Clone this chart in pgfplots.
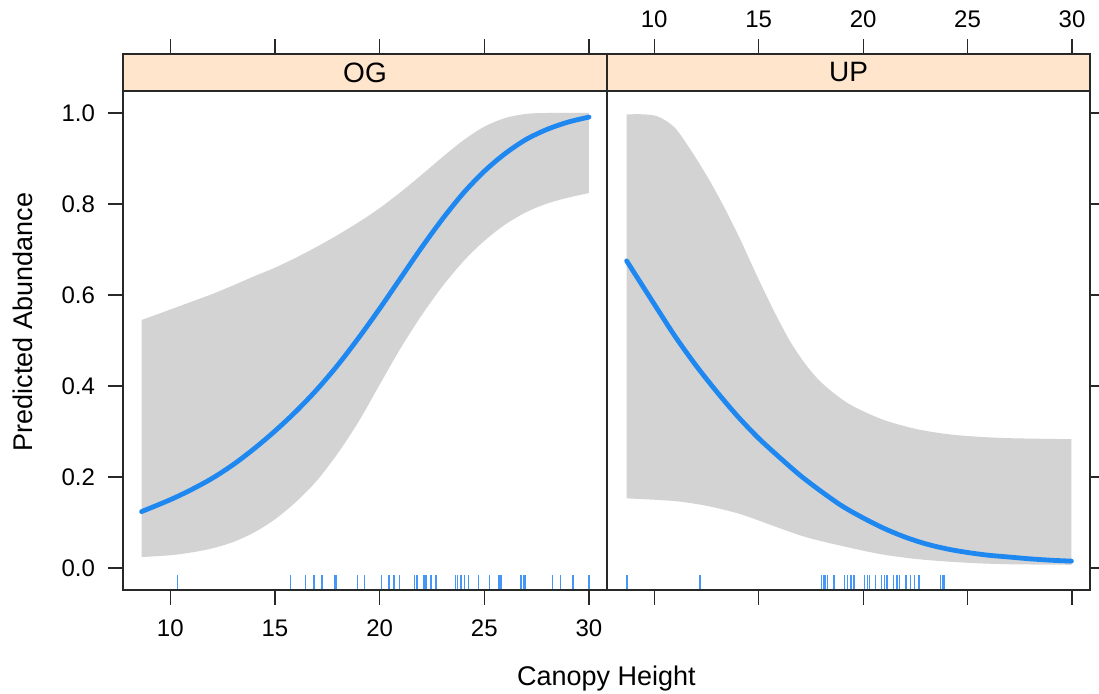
\documentclass[border=0pt]{standalone}
\usepackage{fontspec}
\setmainfont{Liberation Sans}
\usepackage{pgfplots}
\pgfplotsset{compat=1.18}
\usepgfplotslibrary{fillbetween}

\definecolor{fitblue}{RGB}{30,136,240}
\definecolor{rugblue}{RGB}{70,150,245}
\definecolor{bandgray}{RGB}{211,211,211}
\definecolor{stripbg}{RGB}{255,229,204}
\definecolor{framegray}{RGB}{40,40,40}

% fitted curves with confidence bands, one table per series
\pgfplotstableread{
x y
8.63 0.124
10 0.150
11 0.172
12 0.197
13 0.227
14 0.262
15 0.301
16 0.344
17 0.392
18 0.446
19 0.506
20 0.570
21 0.637
22 0.704
23 0.767
24 0.824
25 0.872
26 0.911
27 0.942
28 0.964
29 0.980
30 0.991
}\ogfit
\pgfplotstableread{
x y
8.63 0.545
10 0.568
11 0.585
12 0.602
13 0.621
14 0.641
15 0.660
16 0.682
17 0.706
18 0.732
19 0.760
20 0.791
21 0.826
22 0.864
23 0.903
24 0.940
25 0.970
26 0.989
27 0.998
28 1.000
30 1.000
}\ogupper
\pgfplotstableread{
x y
8.63 0.024
10 0.028
11 0.034
12 0.043
13 0.057
14 0.078
15 0.107
16 0.145
17 0.192
18 0.252
19 0.322
20 0.403
21 0.483
22 0.555
23 0.619
24 0.674
25 0.719
26 0.755
27 0.782
28 0.801
29 0.814
30 0.824
}\oglower
\pgfplotstableread{
x y
8.68 0.675
10 0.580
11 0.509
12 0.445
13 0.387
14 0.333
15 0.285
16 0.243
17 0.203
18 0.168
19 0.136
20 0.110
21 0.087
22 0.068
23 0.053
24 0.042
25 0.034
26 0.028
27 0.024
28 0.020
29 0.017
29.97 0.015
}\upfit
\pgfplotstableread{
x y
8.68 0.997
9.5 0.997
10.19 0.992
10.98 0.968
11.77 0.917
12.57 0.858
13.36 0.792
14.15 0.719
14.94 0.640
15.73 0.565
16.52 0.497
17.32 0.443
18.11 0.403
19.31 0.361
20.89 0.327
22.48 0.306
24.06 0.294
25.64 0.288
27.22 0.285
29.97 0.283
}\upupper
\pgfplotstableread{
x y
8.68 0.153
10.98 0.147
12.57 0.136
14.15 0.118
15.73 0.092
17.32 0.067
19.31 0.045
20.89 0.030
22.48 0.020
24.06 0.014
25.64 0.010
27.22 0.008
29.97 0.007
}\uplower

\pgfplotsset{
  panel/.style={
    scale only axis, width=242pt, height=268pt,
    xmin=7.74, xmax=30.86, ymin=-0.0484, ymax=1.1297,
    xtick={10,15,20,25,30}, ytick={0,0.2,0.4,0.6,0.8,1},
    tick align=outside, major tick length=7.5pt,
    axis on top,
    every tick/.style={framegray, line width=0.6pt},
    axis line style={framegray, line width=0.7pt},
    tick label style={font=\fontsize{12}{14}\selectfont},
    /pgf/number format/assume math mode=true,
    yticklabel style={xshift=-3pt, /pgf/number format/fixed, /pgf/number format/fixed zerofill, /pgf/number format/precision=1},
    xtick pos=both,
  },
  rug/.style={draw=rugblue, line width=0.7pt, quiver={u=0, v=0.034}, -},
}

\newcommand{\drawstrip}[1]{%
  \fill[stripbg] (rel axis cs:0,0.931) rectangle (rel axis cs:1,1);
  \draw[framegray, line width=0.7pt] (rel axis cs:0,0.931) -- (rel axis cs:1,0.931);
  \node[font=\fontsize{14}{16}\selectfont] at (rel axis cs:0.5,0.9655) {#1};
}

\begin{document}
\begin{tikzpicture}

% ---- OG panel ----
\begin{axis}[panel, at={(61.5pt,52pt)}, anchor=south west,
  xticklabel pos=lower, xticklabel style={yshift=-4pt}, ytick pos=left]
  \drawstrip{OG}
  \addplot[name path=ogU, draw=none, smooth] table {\ogupper};
  \addplot[name path=ogL, draw=none, smooth] table {\oglower};
  \addplot[bandgray] fill between[of=ogU and ogL];
  \addplot[fitblue, line width=2.4pt, smooth, line cap=round] table {\ogfit};
  \addplot[rug] coordinates {
    (10.35,-0.0484) (15.75,-0.0484) (16.46,-0.0484) (16.86,-0.0484)
    (17.25,-0.0484) (17.86,-0.0484) (17.94,-0.0484) (18.94,-0.0484)
    (19.29,-0.0484) (20.08,-0.0484) (20.44,-0.0484) (20.68,-0.0484)
    (20.95,-0.0484) (21.67,-0.0484) (21.79,-0.0484) (22.11,-0.0484)
    (22.22,-0.0484) (22.46,-0.0484) (22.70,-0.0484) (23.62,-0.0484)
    (23.73,-0.0484) (23.89,-0.0484) (24.05,-0.0484) (24.25,-0.0484)
    (24.71,-0.0484) (25.24,-0.0484) (25.71,-0.0484) (25.79,-0.0484)
    (26.75,-0.0484) (26.86,-0.0484) (26.95,-0.0484) (28.25,-0.0484)
    (28.65,-0.0484) (29.24,-0.0484) (30.00,-0.0484)
  };
\end{axis}

% ---- UP panel ----
\begin{axis}[panel, at={(303.5pt,52pt)}, anchor=south west, width=241.5pt,
  xticklabel pos=upper, xticklabel style={yshift=2pt}, ytick pos=right, yticklabels={}]
  \drawstrip{UP}
  \addplot[name path=upU, draw=none, smooth] table {\upupper};
  \addplot[name path=upL, draw=none, smooth] table {\uplower};
  \addplot[bandgray] fill between[of=upU and upL];
  \addplot[fitblue, line width=2.4pt, smooth, line cap=round] table {\upfit};
  \addplot[rug] coordinates {
    (8.70,-0.0484) (12.19,-0.0484) (18.01,-0.0484) (18.09,-0.0484)
    (18.17,-0.0484) (18.30,-0.0484) (18.61,-0.0484) (19.12,-0.0484)
    (19.25,-0.0484) (19.41,-0.0484) (19.56,-0.0484) (20.07,-0.0484)
    (20.20,-0.0484) (20.31,-0.0484) (20.58,-0.0484) (20.89,-0.0484)
    (21.02,-0.0484) (21.15,-0.0484) (21.46,-0.0484) (21.62,-0.0484)
    (21.73,-0.0484) (22.05,-0.0484) (22.26,-0.0484) (22.45,-0.0484)
    (22.68,-0.0484) (23.71,-0.0484) (23.79,-0.0484) (23.87,-0.0484)
  };
\end{axis}

% shared axis titles
\node[rotate=90, font=\fontsize{13.5}{16}\selectfont] at (11.5pt,186pt) {Predicted Abundance};
\node[anchor=base, font=\fontsize{13.5}{16}\selectfont] at (303.25pt,4pt) {Canopy Height};

% fixed page frame
\pgfresetboundingbox
\useasboundingbox (0,0) rectangle (549.5pt,347pt);
\end{tikzpicture}
\end{document}
